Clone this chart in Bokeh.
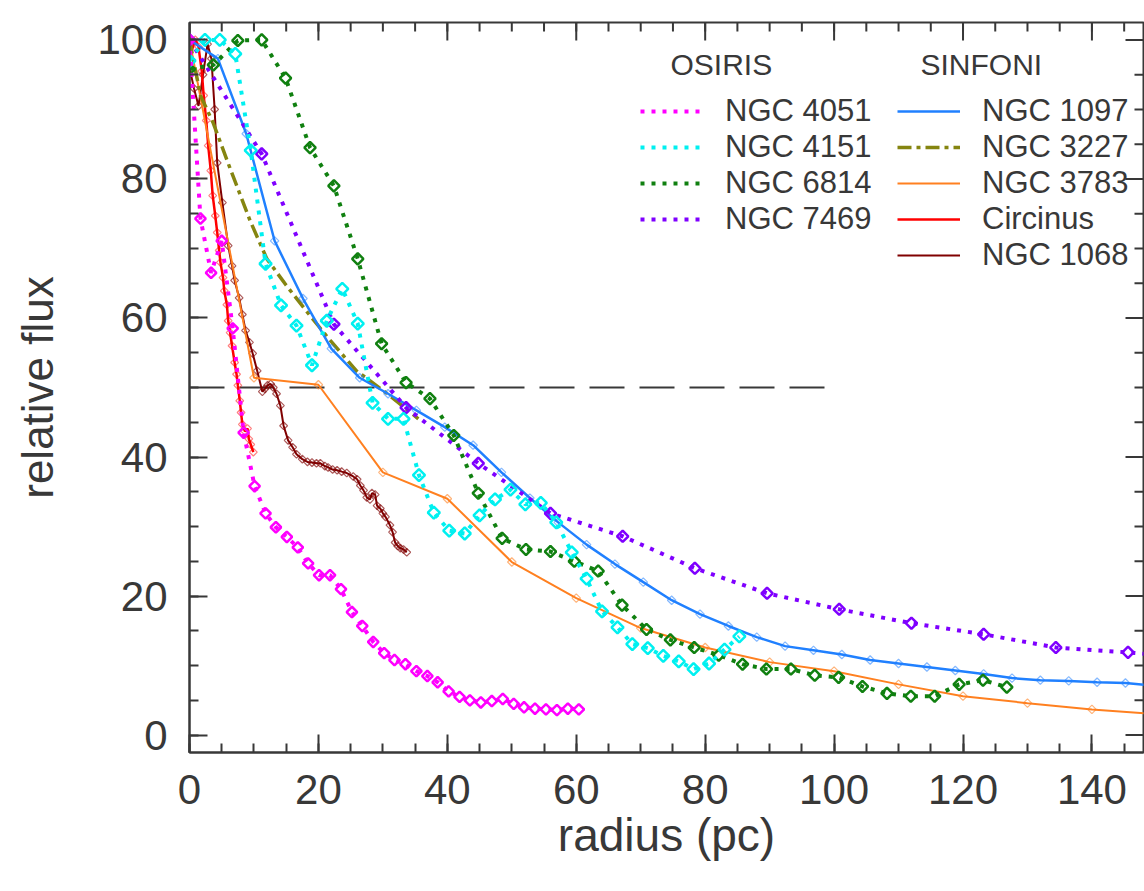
import numpy as np
from bokeh.plotting import figure
from bokeh.models import Range1d, Legend, LegendItem, Label, FixedTicker
from bokeh.embed import file_html
from bokeh.resources import INLINE

# ---------------- data: relative flux (%) vs radius (pc) ----------------
# OSIRIS
x4051 = [0, 1.7, 3.35, 5.0, 6.7, 8.4, 10.1, 11.8, 13.4, 15.1, 16.8, 18.4, 20.1,
         21.8, 23.5, 25.2, 26.8, 28.5, 30.2, 31.8, 33.5, 35.2, 36.9, 38.5, 40.2,
         41.9, 43.5, 45.2, 46.9, 48.6, 50.3, 51.9, 53.6, 55.3, 57.0, 58.7, 60.4]
y4051 = [100, 74.3, 66.5, 71.1, 58.5, 43.5, 35.8, 31.9, 29.9, 28.5, 27.0, 24.7, 23.0,
         23.0, 21.0, 17.7, 15.7, 13.4, 11.8, 10.8, 10.2, 9.2, 8.5, 7.6, 6.3,
         5.5, 5.0, 4.7, 4.9, 5.2, 4.5, 4.0, 3.8, 3.7, 3.6, 3.8, 3.7]

x4151 = [0, 2.4, 4.7, 7.1, 9.5, 11.8, 14.2, 16.6, 19.0, 21.3, 23.7, 26.1, 28.4,
         30.8, 33.2, 35.6, 37.9, 40.3, 42.7, 45.0, 47.4, 49.8, 52.1, 54.5, 56.9,
         59.3, 61.6, 64.0, 66.4, 68.7, 71.1, 73.5, 75.9, 78.2, 80.6, 83.0, 85.3]
y4151 = [97, 100, 100, 98, 84.1, 67.8, 61.8, 58.9, 53.2, 59.6, 64.2, 59.2, 47.8,
         45.5, 45.5, 37.4, 32.0, 29.4, 29.0, 31.6, 33.9, 35.3, 33.2, 33.4, 30.6,
         26.3, 22.5, 17.8, 15.5, 13.1, 12.5, 11.4, 10.6, 9.5, 10.3, 12.3, 14.2]

x6814 = [0, 3.7, 7.5, 11.2, 14.9, 18.7, 22.4, 26.1, 29.8, 33.6, 37.3, 41.0, 44.8,
         48.5, 52.2, 56.0, 59.7, 63.4, 67.1, 70.9, 74.6, 78.3, 82.1, 85.8, 89.5,
         93.3, 97.0, 100.7, 104.4, 108.2, 111.9, 115.6, 119.4, 123.1, 126.8]
y6814 = [95.8, 96.4, 99.9, 100.0, 94.5, 84.5, 79.0, 68.5, 56.3, 50.7, 48.4, 43.1, 34.8,
         28.3, 26.7, 26.4, 25.0, 23.6, 18.7, 15.2, 13.7, 12.6, 11.5, 10.2, 9.5,
         9.5, 8.6, 8.3, 7.0, 6.0, 5.6, 5.6, 7.3, 7.9, 6.9]

x7469 = [0, 11.2, 22.4, 33.6, 44.8, 56.0, 67.2, 78.4, 89.6, 100.8, 112.0, 123.2,
         134.4, 145.6, 156.8]
y7469 = [100, 83.6, 59.1, 47.1, 39.1, 31.9, 28.6, 24.0, 20.4, 18.1, 16.1, 14.5,
         12.6, 11.9, 11.0]

# SINFONI
x1097 = [0, 4.4, 8.8, 13.2, 17.6, 22.0, 26.4, 30.8, 35.2, 39.6, 44.0, 48.4, 52.8,
         57.2, 61.6, 66.0, 70.4, 74.8, 79.2, 83.6, 88.0, 92.4, 96.8, 101.2, 105.6,
         110.0, 114.4, 118.8, 123.2, 127.6, 132.0, 136.4, 140.8, 145.2, 149.6]
y1097 = [100, 97.3, 86.5, 71.1, 62.8, 55.6, 51.4, 49.1, 46.7, 44.3, 41.7, 37.8, 34.1,
         30.6, 27.4, 24.6, 22.0, 19.4, 17.4, 15.7, 14.1, 12.8, 12.2, 11.6, 10.8,
         10.3, 9.8, 9.3, 8.8, 8.2, 7.9, 7.8, 7.6, 7.5, 7.1]

x3227 = [0, 1.7, 3.7, 6.3, 9.4, 12.0, 15.0, 18.3, 21.8, 25.9, 30.7, 35.5]
y3227 = [100, 92, 88, 81.5, 74, 68.5, 64.7, 60.8, 56.8, 52.4, 49.1, 45.5]

x3783 = [0, 10, 20, 30, 40, 50, 60, 70, 80, 90, 100, 110, 120, 130, 140, 150]
y3783 = [100, 51.4, 50.4, 37.8, 34.0, 24.9, 19.7, 15.4, 12.6, 10.5, 9.2, 7.3, 5.6,
         4.6, 3.7, 3.0]

xcirc = [0.0, 0.9, 1.4, 1.9, 2.2, 2.6, 2.9, 3.3, 3.6, 4.0, 4.3, 4.6, 4.8, 5.2, 5.4,
         5.8, 6.0, 6.3, 6.6, 7.0, 7.3, 7.5, 7.8, 8.0, 8.2, 8.6, 9.0, 9.2, 9.5, 9.9]
ycirc = [97.5, 100, 99.0, 95.5, 92.0, 88.4, 84.8, 81.2, 77.6, 74.7, 72.3, 69.7, 68.0,
         65.8, 63.9, 61.9, 59.6, 57.9, 56.0, 53.6, 51.9, 50.3, 48.1, 46.4, 44.7,
         43.7, 44.1, 42.6, 41.8, 40.7]

x1068 = [0, 0.7, 1.4, 2.1, 2.8, 3.4, 3.9, 4.3, 5.1, 6.0, 6.6, 7.0, 7.7, 8.2, 8.7,
         9.3, 9.8, 10.5, 11.3, 11.7, 12.1, 12.6, 13.0, 13.5, 14.1, 14.6, 15.3, 16.0,
         16.6, 17.5, 18.3, 19.0, 19.7, 20.3, 21.0, 21.5, 22.2, 22.9, 23.6, 24.4,
         25.4, 26.0, 26.5, 27.0, 27.5, 28.0, 28.3, 28.8, 29.1, 29.6, 30.0, 30.4,
         31.1, 31.5, 31.9, 32.3, 32.7, 33.2, 33.7]
y1068 = [96, 93, 90.5, 95, 99.4, 97.3, 90, 82.3, 76.6, 70.4, 67.5, 65.4, 62.9, 60.5,
         58.2, 56.5, 54.9, 52.4, 49.4, 49.8, 50.3, 50.5, 50.0, 49.1, 47.4, 44.5,
         42.4, 41.4, 40.4, 39.7, 39.3, 39.2, 39.1, 39.1, 38.7, 38.5, 38.2, 38.1,
         37.9, 37.7, 37.2, 36.8, 35.9, 35.2, 34.2, 33.9, 34.8, 34.6, 33.0, 32.6,
         31.9, 31.4, 30.2, 29.2, 27.7, 27.2, 26.9, 26.7, 26.3]

half_level = 50      # half-light level
half_xmax = 100

osiris_names = ["NGC 4051", "NGC 4151", "NGC 6814", "NGC 7469"]
sinfoni_names = ["NGC 1097", "NGC 3227", "NGC 3783", "Circinus", "NGC 1068"]
x_ticks = [0, 20, 40, 60, 80, 100, 120, 140]
y_ticks = [0, 20, 40, 60, 80, 100]
x_minor = list(range(0, 150, 5))
y_minor = list(range(0, 105, 5))
X_LO, X_HI = 0, 148
Y_LO, Y_HI = -2.5, 102.5

# ---------------- styling ----------------
INK = "#383838"
FONT = "Liberation Sans"
MAJ, MIN = 18, 9

p = figure(width=1144, height=891,
           x_range=Range1d(X_LO, X_HI), y_range=Range1d(Y_LO, Y_HI),
           output_backend="svg", toolbar_location=None,
           min_border_left=189, min_border_right=1,
           min_border_top=22, min_border_bottom=139,
           background_fill_color="white", border_fill_color="white")
p.grid.visible = False
p.outline_line_color = INK
p.outline_line_width = 2

p.xaxis.ticker = FixedTicker(ticks=x_ticks, minor_ticks=x_minor)
p.yaxis.ticker = FixedTicker(ticks=y_ticks, minor_ticks=y_minor)
for ax in (p.xaxis[0], p.yaxis[0]):
    ax.axis_line_color = INK
    ax.axis_line_width = 2
    ax.major_tick_line_color = INK
    ax.major_tick_line_width = 2
    ax.minor_tick_line_color = INK
    ax.minor_tick_line_width = 2
    ax.major_tick_in = MAJ
    ax.major_tick_out = 0
    ax.minor_tick_in = MIN
    ax.minor_tick_out = 0
    ax.major_label_text_font = FONT
    ax.major_label_text_font_size = "42px"
    ax.major_label_text_color = INK
    ax.axis_label_text_font = FONT
    ax.axis_label_text_font_style = "normal"
    ax.axis_label_text_color = INK
p.xaxis.major_label_standoff = 22
p.yaxis.major_label_standoff = 22
p.xaxis.axis_label = "radius (pc)"
p.xaxis.axis_label_text_font_size = "46px"
p.xaxis.axis_label_standoff = 2
p.yaxis.axis_label = "relative flux"
p.yaxis.axis_label_text_font_size = "44px"
p.yaxis.axis_label_standoff = 32

# inward ticks along the top and right edges of the frame
tick_style = dict(line_color=INK, line_width=2, length_units="screen")
p.ray(x=x_ticks, y=[Y_HI] * len(x_ticks), length=MAJ, angle=-np.pi / 2, **tick_style)
p.ray(x=x_minor, y=[Y_HI] * len(x_minor), length=MIN, angle=-np.pi / 2, **tick_style)
p.ray(x=[X_HI] * len(y_ticks), y=y_ticks, length=MAJ, angle=np.pi, **tick_style)
p.ray(x=[X_HI] * len(y_minor), y=y_minor, length=MIN, angle=np.pi, **tick_style)

DOT = "4 7"
MAGENTA, CYAN, GREEN, PURPLE = "#ff00ff", "#00f0f0", "#108010", "#7f00ff"
BLUE, OLIVE, ORANGE, RED, MAROON = "#2080ff", "#858510", "#ff8020", "#ff0000", "#800000"

# half-light reference line
p.segment(x0=0, y0=half_level, x1=half_xmax, y1=half_level,
          line_color=INK, line_width=2, line_dash="35 15")


def series(x, y, color, dash, lw, msize, mlw, malpha=1.0, markers=True):
    r = p.line(x, y, line_color=color, line_width=lw, line_dash=dash,
               line_cap="butt")
    if markers:
        p.scatter(x, y, marker="square", angle=np.pi / 4, size=msize,
                  fill_color=None, line_color=color, line_width=mlw,
                  line_alpha=malpha)
    return r


r1068 = series(x1068, y1068, MAROON, "solid", 2, 5.5, 1.2, 0.65)
rcirc = series(xcirc, ycirc, RED, "solid", 2.5, 5.5, 1.2, 0.5)
r3783 = series(x3783, y3783, ORANGE, "solid", 2, 6, 1.2, 0.6)
r3227 = series(x3227, y3227, OLIVE, "14 5 4 5", 3.5, 0, 0, markers=False)
r1097 = series(x1097, y1097, BLUE, "solid", 2.5, 6, 1.2, 0.55)
r7469 = series(x7469, y7469, PURPLE, DOT, 4, 8, 2.5)
r6814 = series(x6814, y6814, GREEN, DOT, 4, 8, 2.5)
r4151 = series(x4151, y4151, CYAN, DOT, 4, 8.5, 2.5)
r4051 = series(x4051, y4051, MAGENTA, DOT, 4, 7.5, 2.5)


def make_legend(names, rends, loc):
    leg = Legend(items=[LegendItem(label=n, renderers=[r]) for n, r in zip(names, rends)],
                 location=loc, orientation="vertical",
                 border_line_color=None, background_fill_alpha=0,
                 padding=0, margin=0, spacing=0,
                 glyph_width=63, glyph_height=36, label_height=36,
                 label_standoff=22, label_text_font=FONT,
                 label_text_font_size="31px", label_text_color=INK)
    p.add_layout(leg)
    return leg


make_legend(osiris_names, [r4051, r4151, r6814, r7469], (451, 515))
make_legend(sinfoni_names, [r1097, r3227, r3783, rcirc, r1068], (708, 479))

for txt, xs in (("OSIRIS", 481), ("SINFONI", 731)):
    p.add_layout(Label(x=xs, y=688, x_units="screen", y_units="screen", text=txt,
                       text_font=FONT, text_font_size="30px", text_color=INK,
                       text_align="left", text_baseline="middle"))

open("out.html", "w").write(file_html(p, INLINE))
